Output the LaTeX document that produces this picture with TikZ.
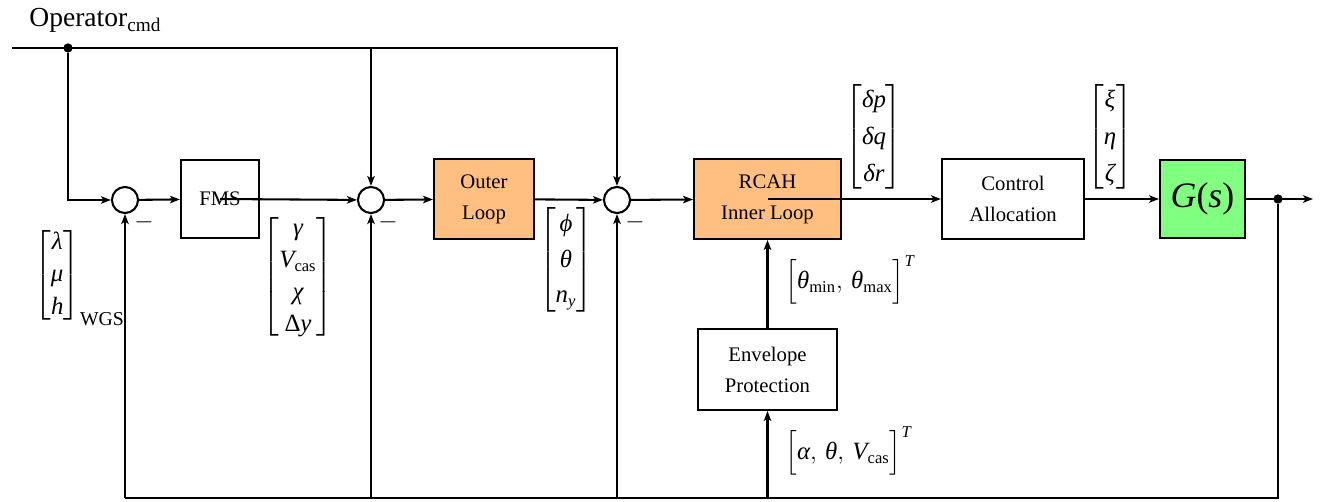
\documentclass[tikz,border=0pt]{standalone}
\usepackage{amsmath}
\usepackage{fontspec}
\setmainfont{Liberation Serif}
\usetikzlibrary{arrows.meta,calc}
\newcommand{\vi}[1]{\text{\itshape #1}}
\newcommand{\vu}[1]{\text{#1}}
\tikzset{
  blk/.style={draw, line width=1pt, align=center, inner sep=0pt, minimum height=38.6pt},
  sumc/.style={draw, circle, line width=1pt, minimum size=12.6pt, inner sep=0pt},
  arr/.style={line width=1pt, -{Stealth[length=4.8pt,width=3.6pt,inset=1.2pt]}},
  ln/.style={line width=1pt},
  dotc/.style={circle, fill=black, inner sep=0pt, minimum size=4.5pt},
  lbl/.style={inner sep=0pt, font=\large},
}
\begin{document}
\begin{tikzpicture}[x=0.483pt,y=-0.483pt]
\useasboundingbox (0,0) rectangle (1329,501);
% nodes
\node[sumc] (sum1) at (125,200) {};
\node[blk, minimum width=37.7pt, minimum height=37.7pt] (fms) at (220,199) {FMS};
\node[sumc] (sum2) at (371,200) {};
\node[blk, fill=orange!50, minimum width=48.3pt] (outer) at (484,199) {Outer\\[3pt]Loop};
\node[sumc] (sum3) at (617,200) {};
\node[blk, fill=orange!50, minimum width=71pt] (rcah) at (767.5,199) {RCAH\\[3pt]Inner Loop};
\node[blk, minimum width=68.6pt] (ca) at (1013,199) {Control\\[3pt]Allocation};
\node[blk, fill=green!50, minimum width=41pt, minimum height=37.7pt] (G) at (1202.5,199) {\LARGE\itshape G\upshape(\itshape s\upshape)};
\node[blk, minimum width=67.1pt, minimum height=39.1pt] (ep) at (767.5,369.5) {Envelope\\[3pt]Protection};
\node[dotc] (dot1) at (68,48) {};
\node[dotc] (dot2) at (1278,199) {};
\coordinate (tstart) at (12,48);
\coordinate (c2top) at (371,48);
\coordinate (oend) at (1313,199);
\coordinate (bl) at (125,498);
\coordinate (b2) at (371,498);
\coordinate (b3) at (617,498);
\coordinate (be) at (767.5,498);
\coordinate (br) at (1278,498);
% labels
\node[anchor=base west, inner sep=0pt, font=\fontsize{13.3}{16}\selectfont] (op) at (29,27) {Operator\textsubscript{cmd}};
\node[lbl, anchor=west] (l1) at (34,276) {$\renewcommand{\arraystretch}{1.12}\begin{bmatrix}\vi{λ}\\ \vi{μ}\\ \vi{h}\end{bmatrix}_{\text{\fontsize{9.5}{11}\selectfont WGS}}$};
\node[lbl] (l2) at (298,277) {$\renewcommand{\arraystretch}{1.1}\begin{bmatrix}\vi{γ}\\ \vi{V}_{\vu{cas}}\\ \vi{χ}\\ \vu{Δ}\vi{y}\end{bmatrix}$};
\node[lbl] (l3) at (566,260) {$\renewcommand{\arraystretch}{1.22}\begin{bmatrix}\vi{ϕ}\\ \vi{θ}\\ \vi{n}_{\vi{y}}\end{bmatrix}$};
\node[lbl] (l4) at (874,137) {$\renewcommand{\arraystretch}{1.27}\begin{bmatrix}\vi{δp}\\ \vi{δq}\\ \vi{δr}\end{bmatrix}$};
\node[lbl] (l5) at (1110,137) {$\renewcommand{\arraystretch}{1.27}\begin{bmatrix}\vi{ξ}\\ \vi{η}\\ \vi{ζ}\end{bmatrix}$};
\node[lbl, anchor=west] (l6) at (785,280) {$\Big[\vi{θ}_{\vu{min}},\,\vi{θ}_{\vu{max}}\Big]^{\vi{T}}$};
\node[lbl, anchor=west] (l7) at (785,451) {$\Big[\vi{α},\,\vi{θ},\,\vi{V}_{\vu{cas}}\Big]^{\vi{T}}$};
\node[lbl] (m1) at (144,222) {$-$};
\node[lbl] (m2) at (388,222) {$-$};
\node[lbl] (m3) at (635,222) {$-$};
% connectors
\draw[arr] (tstart) -| (sum3);
\draw[arr] (dot1) |- (sum1);
\draw[arr] (c2top) -- (sum2);
\draw[arr] (sum1) -- (fms);
\draw[arr] (fms.center) -- (sum2);
\draw[arr] (sum2) -- (outer);
\draw[arr] (outer) -- (sum3);
\draw[arr] (sum3) -- (rcah);
\draw[arr] (rcah.center) -- (ca);
\draw[arr] (ca) -- (G);
\draw[arr] (G) -- (oend);
\draw[ln] (dot2) -- (br) -- (bl);
\draw[arr] (bl) -- (sum1);
\draw[arr] (b2) -- (sum2);
\draw[arr] (b3) -- (sum3);
\draw[arr] (be) -- (ep);
\draw[arr] (ep) -- (rcah);
\end{tikzpicture}
\end{document}
